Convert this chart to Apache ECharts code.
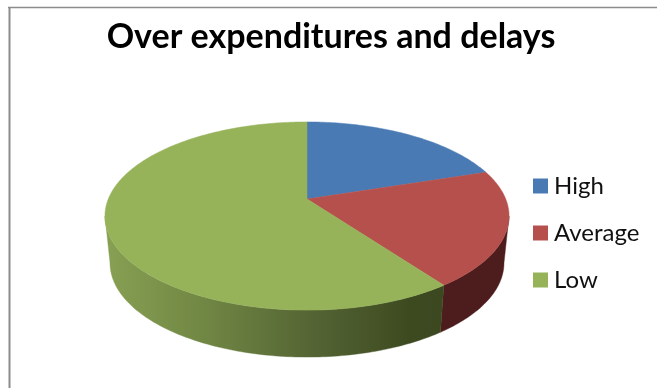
<!DOCTYPE html>
<html>
<head>
<meta charset="utf-8">
<style>html,body{margin:0;padding:0;background:#fff}#chart{width:657px;height:388px}</style>
<script src="https://cdn.jsdelivr.net/npm/echarts@6/dist/echarts.min.js"></script>
</head>
<body>
<div id="chart"></div>
<script>
const chartTitle = 'Over expenditures and delays';
const categories = ['High', 'Average', 'Low'];
const shares = [20, 20, 60];
const topColors = ['#4a7ab4', '#b5504c', '#97b35a'];

// Perspective disc: hub position, lens strength and radii in pixels.
const hubX = 307, hubY = 199, lens = 0.181, radiusX = 198.7, radiusY = 91;
const wallDrop = 47, bottomShrink = 0.975;
// Angle at which the disc rim turns away from the viewer (the silhouette).
const rimTurn = Math.acos(-lens);
const total = shares.reduce((a, b) => a + b, 0);

function rimPoint(theta, drop, shrink) {
  const X = Math.sin(theta), Y = Math.cos(theta), w = 1 + lens * Y;
  return [hubX + shrink * radiusX * X / w, hubY + drop - radiusY * Y / w];
}
function arc(from, to, drop, shrink) {
  const steps = Math.max(2, Math.ceil(Math.abs(to - from) * 60));
  const pts = [];
  for (let i = 0; i <= steps; i++) pts.push(rimPoint(from + (to - from) * i / steps, drop, shrink));
  return pts;
}
const wallFills = [
  null,
  '#4c1d1c',
  { type: 'linear', x: 110, y: 0, x2: 443, y2: 0, global: true, colorStops: [
    { offset: 0, color: '#869f52' },
    { offset: 0.3, color: '#6f8543' },
    { offset: 0.6, color: '#556534' },
    { offset: 0.9, color: '#3d4a20' },
    { offset: 1, color: '#3c4820' }
  ] }
];

function sliceRenderer(index) {
  return function (params, api) {
    const before = shares.slice(0, index).reduce((a, b) => a + b, 0);
    const start = before / total * Math.PI * 2;
    const end = start + api.value(0) / total * Math.PI * 2;
    const children = [];
    // Visible part of the rim wall, limited to the silhouette on both sides.
    const wallFrom = Math.max(start, rimTurn), wallTo = Math.min(end, Math.PI * 2 - rimTurn);
    if (wallFills[index] && wallFrom < wallTo) {
      const upper = arc(wallFrom, wallTo, 0, 1);
      const lower = arc(wallTo, wallFrom, wallDrop, bottomShrink);
      children.push({
        type: 'polygon', silent: true,
        shape: { points: upper.concat(lower) },
        style: { fill: wallFills[index], stroke: wallFills[index], lineWidth: 0.4 }
      });
    }
    children.push({
      type: 'polygon', silent: true,
      shape: { points: [[hubX, hubY]].concat(arc(start, end, 0, 1)) },
      style: { fill: topColors[index], stroke: topColors[index], lineWidth: 0.5 }
    });
    return { type: 'group', children };
  };
}

const chart = echarts.init(document.getElementById('chart'), null, { renderer: 'canvas' });
chart.setOption({
  animation: false,
  backgroundColor: '#ffffff',
  title: {
    text: chartTitle, left: 326, top: 15, textAlign: 'center',
    textStyle: { fontFamily: 'Lato', fontWeight: 'bold', fontSize: 34, color: '#000000' }
  },
  legend: {
    orient: 'vertical', left: 533, top: 174, padding: 0, itemWidth: 15, itemHeight: 15, itemGap: 23,
    icon: 'rect', selectedMode: false,
    textStyle: { fontFamily: 'Lato', fontSize: 24, lineHeight: 15, color: '#111111', padding: [0, 0, 0, 1] },
    data: categories
  },
  series: categories.map((name, i) => ({
    name,
    type: 'custom',
    coordinateSystem: 'none',
    silent: true,
    itemStyle: { color: topColors[i] },
    data: [[shares[i]]],
    renderItem: sliceRenderer(i)
  })),
  graphic: [
    { type: 'line', silent: true, shape: { x1: 8, y1: 7.5, x2: 657, y2: 7.5 }, style: { stroke: '#8c8c8c', lineWidth: 1.5 } },
    { type: 'line', silent: true, shape: { x1: 9.5, y1: 7, x2: 9.5, y2: 388 }, style: { stroke: '#8c8c8c', lineWidth: 2 } }
  ]
});
</script>
</body>
</html>
